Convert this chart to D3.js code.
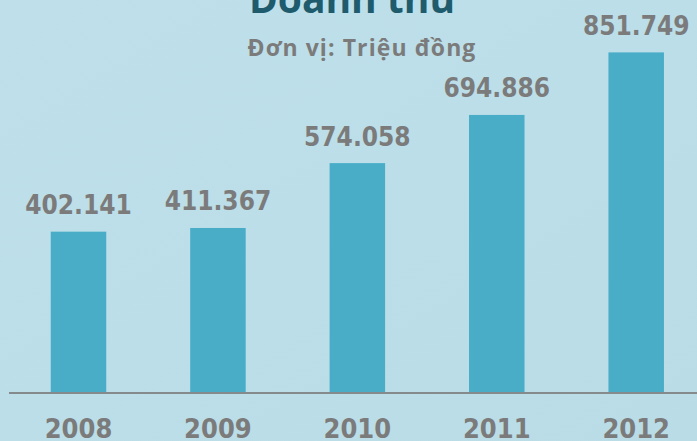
<!DOCTYPE html>
<html lang="vi">
<head>
  <meta charset="UTF-8">
  <title>Doanh thu</title>
  <style>
    body { margin: 0; overflow: hidden; background: #bddfe9; }
    .title { font-family: "Open Sans", sans-serif; font-weight: bold; fill: #1e5b6d; }
    .subtitle { font-family: "Open Sans", sans-serif; font-weight: bold; fill: #7b7b7b; }
    .value, .year { font-family: "DejaVu Sans Condensed", "DejaVu Sans", sans-serif; font-weight: bold; fill: #7b7b7b; }
  </style>
</head>
<body>
  <script src="https://cdn.jsdelivr.net/npm/d3@7/dist/d3.min.js"></script>
  <script>
    // Doanh thu theo năm (triệu đồng)
    const years = ["2008", "2009", "2010", "2011", "2012"];
    const revenue = [402141, 411367, 574058, 694886, 851749];

    const width = 697, height = 441;
    const baseY = 392;

    const svg = d3.select("body").append("svg")
      .attr("width", width)
      .attr("height", height);

    // nền hơi chuyển màu
    const grad = svg.append("defs").append("linearGradient")
      .attr("id", "bg").attr("x1", 0).attr("y1", 0).attr("x2", 1).attr("y2", 1);
    grad.append("stop").attr("offset", "0%").attr("stop-color", "#bfe0ea");
    grad.append("stop").attr("offset", "100%").attr("stop-color", "#b9dce6");
    svg.append("rect").attr("width", width).attr("height", height).attr("fill", "url(#bg)");

    const x = d3.scalePoint()
      .domain(years)
      .range([78.5, 636.2]);

    const y = d3.scaleLinear()
      .domain([0, 851749])
      .range([baseY, 52.4]);

    const barW = 55.5;
    const vn = d3.formatLocale({ decimal: ",", thousands: ".", grouping: [3], currency: ["", ""] });
    const fmt = vn.format(",d");

    const data = years.map((yr, i) => ({ year: yr, value: revenue[i] }));

    svg.append("g").selectAll("rect")
      .data(data)
      .join("rect")
      .attr("x", d => x(d.year) - barW / 2)
      .attr("y", d => y(d.value))
      .attr("width", barW)
      .attr("height", d => baseY - y(d.value))
      .attr("fill", "#49adc8");

    // trục đáy
    svg.append("line")
      .attr("x1", 9).attr("x2", width)
      .attr("y1", baseY + 1).attr("y2", baseY + 1)
      .attr("stroke", "#858a8c")
      .attr("stroke-width", 2);

    svg.append("g").selectAll("text")
      .data(data)
      .join("text")
      .attr("class", "value")
      .attr("x", d => x(d.year))
      .attr("y", d => y(d.value) - 17.5)
      .attr("text-anchor", "middle")
      .attr("font-size", 26)
      .text(d => fmt(d.value));

    svg.append("g").selectAll("text")
      .data(years)
      .join("text")
      .attr("class", "year")
      .attr("x", d => x(d))
      .attr("y", 437.5)
      .attr("text-anchor", "middle")
      .attr("font-size", 27)
      .text(d => d);

    svg.append("text")
      .attr("class", "title")
      .attr("x", 352)
      .attr("y", 13)
      .attr("text-anchor", "middle")
      .attr("font-size", 39)
      .text("Doanh thu");

    svg.append("text")
      .attr("class", "subtitle")
      .attr("x", 362)
      .attr("y", 56)
      .attr("text-anchor", "middle")
      .attr("font-size", 23)
      .attr("letter-spacing", 1.1)
      .text("Đơn vị: Triệu đồng");
  </script>
</body>
</html>
